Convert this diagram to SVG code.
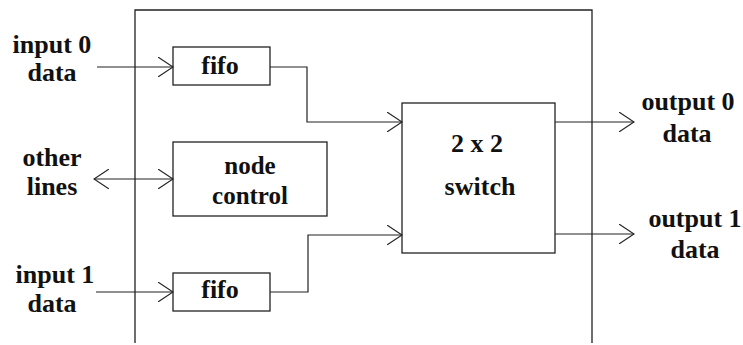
<svg xmlns="http://www.w3.org/2000/svg" width="743" height="345" viewBox="0 0 743 345">
<defs>
<marker id="ah" viewBox="0 0 16 20" refX="15" refY="10" markerWidth="16" markerHeight="20" markerUnits="userSpaceOnUse" orient="auto-start-reverse">
<path d="M0,0 L15,10 L0,20" fill="none" stroke="#222" stroke-width="1.1"/>
</marker>
<style>
.box{fill:none;stroke:#222;stroke-width:1.3}
.ln{fill:none;stroke:#222;stroke-width:1.2}
.t{font-family:"Liberation Serif","Times New Roman",serif;font-weight:bold;font-size:26px;fill:#111;text-anchor:middle}
.s{font-size:25px}
</style>
</defs>
<rect width="743" height="345" fill="#fff"/>
<g id="enclosure">
<path class="box" d="M135,343 V10 H592 V343"/>
</g>
<g id="fifo0">
<rect class="box" x="173" y="47" width="97" height="38"/>
<text class="t" x="220" y="74">fifo</text>
</g>
<g id="fifo1">
<rect class="box" x="173" y="273" width="97" height="38"/>
<text class="t" x="220" y="298">fifo</text>
</g>
<g id="nodecontrol">
<rect class="box" x="173" y="142" width="154" height="74"/>
<text class="t s" x="250" y="174">node</text>
<text class="t s" x="250" y="204">control</text>
</g>
<g id="switch">
<rect class="box" x="402" y="103" width="153" height="150"/>
<text class="t" x="477" y="152">2 x 2</text>
<text class="t" x="480" y="195">switch</text>
</g>
<g id="labels">
<text class="t" x="52" y="53">input 0</text>
<text class="t" x="52" y="81">data</text>
<text class="t" x="52" y="166">other</text>
<text class="t" x="52" y="195">lines</text>
<text class="t" x="55" y="283">input 1</text>
<text class="t" x="52" y="312">data</text>
<text class="t" x="688" y="110">output 0</text>
<text class="t" x="687" y="142">data</text>
<text class="t" x="695" y="227">output 1</text>
<text class="t" x="695" y="258">data</text>
</g>
<g id="connectors">
<path class="ln" d="M97,67 H173" marker-end="url(#ah)"/>
<path class="ln" d="M96,292 H173" marker-end="url(#ah)"/>
<path class="ln" d="M94,179 H173" marker-start="url(#ah)" marker-end="url(#ah)"/>
<path class="ln" d="M270,67 H307 V122 H402" marker-end="url(#ah)"/>
<path class="ln" d="M270,292 H308 V235 H402" marker-end="url(#ah)"/>
<path class="ln" d="M555,122 H634" marker-end="url(#ah)"/>
<path class="ln" d="M555,234 H634" marker-end="url(#ah)"/>
</g>
</svg>
